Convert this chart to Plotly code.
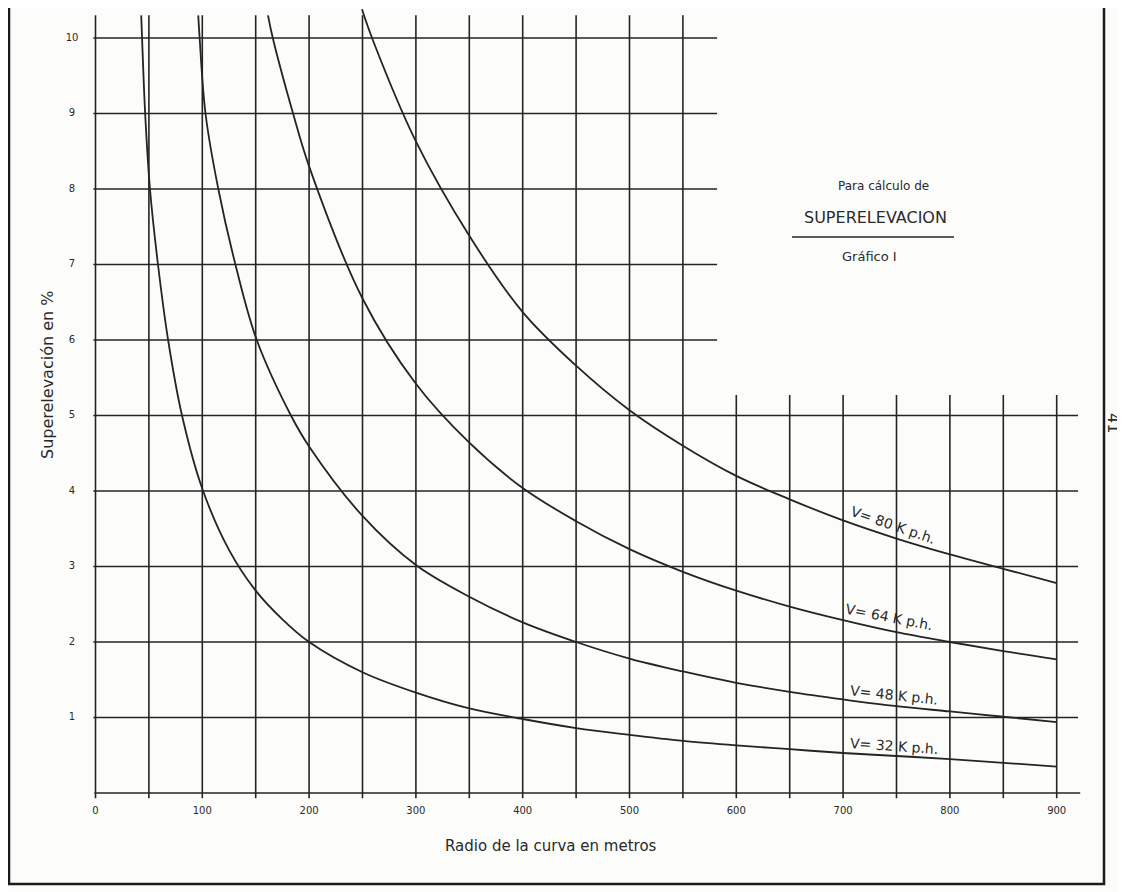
import plotly.graph_objects as go

# ---------------- data ----------------
r32 = [42.8, 43.6, 46.5, 51, 58.5, 68, 81, 100, 125, 150, 175, 200, 250, 300, 350, 400, 450, 500, 550, 600, 650, 700, 750, 800, 850, 900]
e32 = [10.3, 10.0, 9.0, 8.0, 7.0, 6.0, 5.0, 4.03, 3.22, 2.68, 2.3, 2.0, 1.6, 1.33, 1.12, 0.98, 0.86, 0.77, 0.69, 0.63, 0.58, 0.53, 0.49, 0.45, 0.40, 0.35]

r48 = [96.2, 97.5, 103, 115, 131, 151, 183, 200, 250, 300, 350, 400, 450, 500, 550, 600, 650, 700, 750, 800, 850, 900]
e48 = [10.3, 10.0, 9.0, 8.0, 7.0, 6.0, 5.0, 4.59, 3.67, 3.02, 2.6, 2.26, 2.0, 1.78, 1.61, 1.46, 1.34, 1.24, 1.15, 1.08, 1.01, 0.94]

r64 = [161.5, 166, 185, 200, 250, 300, 350, 400, 450, 500, 550, 600, 650, 700, 750, 800, 850, 900]
e64 = [10.3, 10.0, 9.0, 8.3, 6.55, 5.42, 4.64, 4.04, 3.6, 3.23, 2.93, 2.68, 2.47, 2.29, 2.13, 2.0, 1.88, 1.77]

r80 = [249.5, 260, 300, 350, 400, 450, 500, 550, 600, 650, 700, 750, 800, 850, 900]
e80 = [10.38, 9.96, 8.63, 7.38, 6.37, 5.66, 5.07, 4.6, 4.2, 3.89, 3.61, 3.37, 3.16, 2.97, 2.78]

curve_labels = ["V= 32 K p.h.", "V= 48 K p.h.", "V= 64 K p.h.", "V= 80 K p.h."]

x_tick_vals = [0, 100, 200, 300, 400, 500, 600, 700, 800, 900]
x_tick_text = ["0", "100", "200", "300", "400", "500", "600", "700", "800", "900"]
y_tick_vals = [1, 2, 3, 4, 5, 6, 7, 8, 9, 10]
y_tick_text = ["1", "2", "3", "4", "5", "6", "7", "8", "9", "10"]

grid_x = [0, 50, 100, 150, 200, 250, 300, 350, 400, 450, 500, 550, 600, 650, 700, 750, 800, 850, 900]
grid_y = [1, 2, 3, 4, 5, 6, 7, 8, 9, 10]

# ---------------- style / layout ----------------
W, H = 1125, 892
OFF = 8  # page body margin
PX_PER_X = 1.068
PX_PER_Y = 75.5
X0_PX, Y0_PX = 95.5 - OFF, 793 - OFF
xr = [-X0_PX / PX_PER_X, (W - X0_PX) / PX_PER_X]
yr = [(Y0_PX - H) / PX_PER_Y, Y0_PX / PX_PER_Y]

INK = "#242424"
TXT = "#2a2a2a"
FONT = "DejaVu Sans"

fig = go.Figure()

# grid lines
gx, gy = [], []
for v in grid_y:
    xend = 920 if v <= 5 else 582
    gx += [-2, xend, None]
    gy += [v, v, None]
for v in grid_x:
    ytop = 10.3 if v <= 550 else 5.27
    gx += [v, v, None]
    gy += [-0.07, ytop, None]
gx += [-1, 922, None]
gy += [0, 0, None]
fig.add_trace(go.Scatter(x=gx, y=gy, mode="lines", line=dict(color=INK, width=1.6),
                         hoverinfo="skip", showlegend=False))

# curves
for rx, ey, name in [(r32, e32, curve_labels[0]), (r48, e48, curve_labels[1]),
                     (r64, e64, curve_labels[2]), (r80, e80, curve_labels[3])]:
    fig.add_trace(go.Scatter(x=rx, y=ey, mode="lines", name=name,
                             line=dict(color=INK, width=1.8, shape="spline", smoothing=1.0),
                             showlegend=False))

# tick labels
fig.add_trace(go.Scatter(x=x_tick_vals, y=[-0.25] * len(x_tick_vals), mode="text",
                         text=x_tick_text, textfont=dict(family=FONT, size=10, color=TXT),
                         hoverinfo="skip", showlegend=False))
fig.add_trace(go.Scatter(x=[-22] * len(y_tick_vals), y=y_tick_vals, mode="text",
                         text=y_tick_text, textfont=dict(family=FONT, size=10, color=TXT),
                         hoverinfo="skip", showlegend=False))

# curve labels
lab_pos = [(747.7, 0.62, 4), (747.7, 1.30, 6), (743, 2.33, 11), (746.7, 3.55, 19)]
for (lx, ly, ang), t in zip(lab_pos, curve_labels):
    fig.add_annotation(x=lx, y=ly, xref="x", yref="y", text=t, showarrow=False,
                       xanchor="center", yanchor="middle",
                       textangle=ang, font=dict(family=FONT, size=14, color=TXT))

def pp(px, py):
    return (px - OFF) / W, 1 - (py - OFF) / H

annots = [
    ("Superelevación en %", 47, 375, -90, 16),
    ("Radio de la curva en metros", 551, 846, 0, 15),
    ("Para cálculo de", 883, 186, 0, 12),
    ("SUPERELEVACION", 875, 217, 0, 16),
    ("Gráfico I", 869, 257, 0, 13),
    ("41", 1113, 423, 90, 16),
]
for t, px, py, ang, sz in annots:
    ax, ay = pp(px, py)
    fig.add_annotation(x=ax, y=ay, xref="paper", yref="paper", text=t, showarrow=False,
                       xanchor="center", yanchor="middle",
                       textangle=ang, font=dict(family=FONT, size=sz, color=TXT))

# underline of title
u0 = pp(792, 237); u1 = pp(954, 237)
fig.add_shape(type="line", xref="paper", yref="paper", x0=u0[0], y0=u0[1], x1=u1[0], y1=u1[1],
              line=dict(color=INK, width=1.6))

# page border (left, bottom, right)
a = pp(9, 0); b = pp(9, 884); c = pp(1104, 884); d = pp(1104, 0)
fig.add_shape(type="path", xref="paper", yref="paper",
              path=f"M {a[0]},{a[1]} L {b[0]},{b[1]} L {c[0]},{c[1]} L {d[0]},{d[1]}",
              line=dict(color="#1e1a1c", width=2.5))

fig.update_layout(
    width=W, height=H, margin=dict(l=0, r=0, t=0, b=0),
    paper_bgcolor="#fcfcfa", plot_bgcolor="#fcfcfa",
    xaxis=dict(range=xr, visible=False, fixedrange=True),
    yaxis=dict(range=yr, visible=False, fixedrange=True),
    showlegend=False,
)

fig.write_html("out.html")
